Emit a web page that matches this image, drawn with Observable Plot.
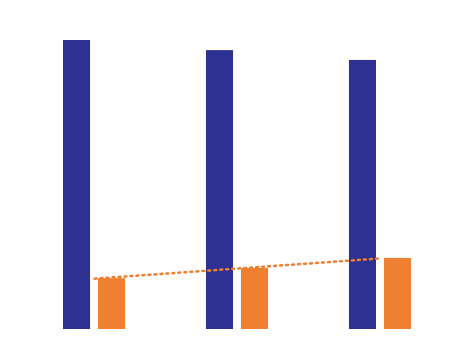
<!DOCTYPE html>
<html>
<head>
<meta charset="utf-8">
<script src="https://cdn.jsdelivr.net/npm/d3@7"></script>
<script src="https://cdn.jsdelivr.net/npm/@observablehq/plot@0.6"></script>
<style>
  html, body { margin: 0; padding: 0; background: #fff; }
</style>
</head>
<body>
<div id="chart"></div>
<script>
const groups = ["A", "B", "C"];
const seriesBlue = [100, 96.5, 93.1];
const seriesOrange = [17.6, 21.1, 24.6];

const blueData = groups.map((g, i) => ({group: g, value: seriesBlue[i]}));
const orangeData = groups.map((g, i) => ({group: g, value: seriesOrange[i]}));

const chart = Plot.plot({
  width: 474,
  height: 352,
  marginTop: 40,
  marginBottom: 23,
  marginLeft: 63,
  marginRight: 63,
  x: {domain: groups, paddingInner: 0.566, paddingOuter: 0, round: false, axis: null},
  y: {domain: [0, 100], axis: null},
  marks: [
    Plot.barY(blueData, {x: "group", y: "value", fill: "#2E3192", insetRight: 35}),
    Plot.barY(orangeData, {x: "group", y: "value", fill: "#EF7F31", insetLeft: 35}),
    Plot.lineY(orangeData, {x: "group", y: "value", stroke: "#EF7F31", strokeWidth: 2.5, strokeDasharray: "2,4"})
  ]
});
document.getElementById("chart").appendChild(chart);
</script>
</body>
</html>
